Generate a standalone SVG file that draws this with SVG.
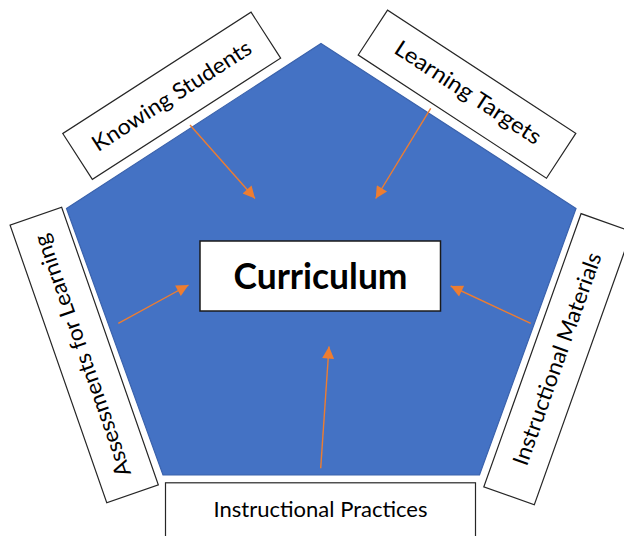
<svg xmlns="http://www.w3.org/2000/svg" width="624" height="536" viewBox="0 0 624 536">
  <style>
    .label-box { fill: #ffffff; stroke: #262626; stroke-width: 1.2; }
    .label { font-family: Lato, "Liberation Sans", sans-serif; font-size: 22px; fill: #000000; text-anchor: middle; }
    .core-box { fill: #ffffff; stroke: #1a1a1a; stroke-width: 1.5; }
    .core { font-family: Lato, "Liberation Sans", sans-serif; font-size: 36px; font-weight: bold; fill: #000000; text-anchor: middle; }
    .flow { stroke: #ED7D31; stroke-width: 1.4; fill: none; marker-end: url(#head); }
  </style>
  <defs>
    <marker id="head" viewBox="0 0 10 10" refX="10" refY="5" markerWidth="15" markerHeight="12" markerUnits="userSpaceOnUse" orient="auto">
      <path d="M0,0 L10,5 L0,10 z" fill="#ED7D31"/>
    </marker>
  </defs>
  <rect width="624" height="536" fill="#ffffff"/>

  <!-- central pentagon -->
  <polygon id="pentagon" points="321,43.5 576,208.5 479.5,475 163,475 66.5,208.5" fill="#4472C4" stroke="#3A62AC" stroke-width="1.2"/>

  <g id="curriculum">
    <rect class="core-box" x="200" y="241" width="240.5" height="70"/>
    <text class="core" x="320.5" y="288.5" textLength="174" lengthAdjust="spacingAndGlyphs">Curriculum</text>
  </g>

  <g id="knowing-students" transform="translate(171.7 95.8) rotate(-32.8)">
    <rect class="label-box" x="-112" y="-27.3" width="224" height="54.6"/>
    <text class="label" x="0" y="7.5" textLength="185" lengthAdjust="spacingAndGlyphs">Knowing Students</text>
  </g>

  <g id="learning-targets" transform="translate(467 94.2) rotate(33.2)">
    <rect class="label-box" x="-112.5" y="-26.8" width="225" height="53.6"/>
    <text class="label" x="0" y="5.5" textLength="170" lengthAdjust="spacingAndGlyphs">Learning Targets</text>
  </g>

  <g id="assessments" transform="translate(84.2 355) rotate(-109.2)">
    <rect class="label-box" x="-147" y="-27.3" width="294" height="54.6"/>
    <text class="label" x="0" y="5.5" textLength="255" lengthAdjust="spacingAndGlyphs">Assessments for Learning</text>
  </g>

  <g id="instructional-materials" transform="translate(557.7 359.2) rotate(-70.4)">
    <rect class="label-box" x="-145" y="-26.8" width="290" height="53.6"/>
    <text class="label" x="0" y="7" textLength="224" lengthAdjust="spacingAndGlyphs">Instructional Materials</text>
  </g>

  <g id="instructional-practices">
    <rect class="label-box" x="165.5" y="482.8" width="310" height="60"/>
    <text class="label" x="320.5" y="516.5" textLength="214" lengthAdjust="spacingAndGlyphs">Instructional Practices</text>
  </g>

  <!-- arrows into the curriculum -->
  <g id="connectors">
    <line class="flow" x1="190" y1="125" x2="255" y2="198.5"/>
    <line class="flow" x1="430.7" y1="108.3" x2="375.7" y2="198.5"/>
    <line class="flow" x1="118.3" y1="323.3" x2="188.5" y2="285"/>
    <line class="flow" x1="530.7" y1="323.3" x2="450.7" y2="286"/>
    <line class="flow" x1="320.7" y1="468.3" x2="329" y2="346.5"/>
  </g>
</svg>
